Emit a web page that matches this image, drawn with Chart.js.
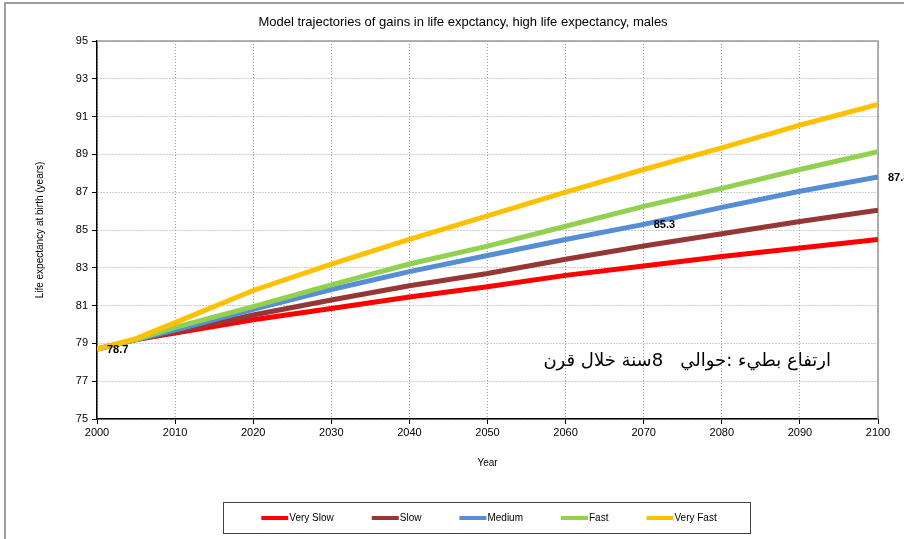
<!DOCTYPE html>
<html>
<head>
<meta charset="utf-8">
<script src="https://cdn.jsdelivr.net/npm/chart.js@4.4.0/dist/chart.umd.min.js"></script>
<style>
  html, body { margin: 0; padding: 0; background: #fff; }
  #wrap { width: 904px; height: 539px; }
</style>
</head>
<body>
<div id="wrap"><canvas id="lifeChart" width="904" height="539"></canvas></div>
<script>
// life expectancy at birth, males, by scenario
const years = [2000, 2005, 2010, 2020, 2030, 2040, 2050, 2060, 2070, 2080, 2090, 2100];
const verySlow = [78.7, 79.2, 79.55, 80.25, 80.85, 81.45, 82.0, 82.6, 83.1, 83.6, 84.05, 84.5];
const slow     = [78.7, 79.2, 79.6, 80.5, 81.3, 82.05, 82.7, 83.45, 84.15, 84.8, 85.45, 86.05];
const medium   = [78.7, 79.2, 79.7, 80.8, 81.85, 82.8, 83.65, 84.5, 85.3, 86.2, 87.05, 87.8];
const fast     = [78.7, 79.2, 79.85, 80.95, 82.1, 83.2, 84.15, 85.2, 86.25, 87.2, 88.2, 89.15];
const veryFast = [78.7, 79.25, 80.1, 81.8, 83.2, 84.5, 85.75, 87.0, 88.2, 89.35, 90.55, 91.65];

const seriesNames = ["Very Slow", "Slow", "Medium", "Fast", "Very Fast"];
const seriesColors = ["#FF0000", "#953735", "#558ED5", "#92D050", "#FFC000"];
const seriesValues = [verySlow, slow, medium, fast, veryFast];

// value labels: [series index, year]
const valueLabels = [[4, 2000], [2, 2070], [2, 2100]];
const chartTitle = "Model trajectories of gains in life expctancy, high life expectancy, males";
const note = "ارتفاع بطيء :حوالي   8سنة خلال قرن";

const FONT = '"Liberation Sans", Arial, sans-serif';

const datasets = seriesValues.map(function (vals, i) {
    return {
        label: seriesNames[i],
        data: vals.map(function (v, j) { return { x: years[j], y: v }; }),
        borderColor: seriesColors[i],
        backgroundColor: seriesColors[i],
        borderWidth: 5,
        pointRadius: 0,
        tension: 0,
        order: seriesValues.length - i
    };
});

const decorations = {
    id: "decorations",
    beforeDraw(chart) {
        const ctx = chart.ctx;
        ctx.save();
        ctx.fillStyle = "#fff";
        ctx.fillRect(0, 0, chart.width, chart.height);
        ctx.strokeStyle = "#7f7f7f";
        ctx.lineWidth = 1.5;
        ctx.strokeRect(5, 3, chart.width + 20, chart.height + 20);

        ctx.fillStyle = "#000";
        ctx.font = "13px " + FONT;
        ctx.textAlign = "center";
        ctx.textBaseline = "middle";
        ctx.fillText(chartTitle, 463, 22);
        ctx.restore();
    },
    beforeDatasetsDraw(chart) {
        const a = chart.chartArea;
        const ctx = chart.ctx;
        ctx.save();
        ctx.strokeStyle = "#999";
        ctx.lineWidth = 1.5;
        ctx.beginPath();
        ctx.moveTo(a.left, a.top);
        ctx.lineTo(a.right, a.top);
        ctx.lineTo(a.right, a.bottom);
        ctx.stroke();
        ctx.restore();
    },
    afterDatasetsDraw(chart) {
        const ctx = chart.ctx;
        ctx.save();
        ctx.fillStyle = "#000";
        ctx.font = "bold 11px " + FONT;
        ctx.textBaseline = "middle";
        ctx.textAlign = "left";
        valueLabels.forEach(function (lb) {
            const idx = years.indexOf(lb[1]);
            const pt = chart.getDatasetMeta(lb[0]).data[idx];
            const v = seriesValues[lb[0]][idx];
            ctx.fillText(v.toFixed(1), pt.x + 10, pt.y + 1);
        });

        ctx.font = '18px "DejaVu Sans", sans-serif';
        ctx.direction = "rtl";
        ctx.textAlign = "right";
        ctx.fillText(note, 831, 361);
        ctx.restore();
    },
    afterDraw(chart) {
        // boxed legend under the axis
        const ctx = chart.ctx;
        ctx.save();
        ctx.strokeStyle = "#404040";
        ctx.lineWidth = 1;
        ctx.strokeRect(223.5, 502.5, 527, 31);
        ctx.font = "10px " + FONT;
        ctx.textBaseline = "middle";
        ctx.textAlign = "left";
        const lineLen = 27, gap = 38;
        const widths = seriesNames.map(function (n) { return lineLen + 1 + ctx.measureText(n).width; });
        const total = widths.reduce(function (s, w) { return s + w; }, 0) + gap * (widths.length - 1);
        let x = 489 - total / 2;
        const y = 518;
        seriesNames.forEach(function (n, i) {
            ctx.strokeStyle = seriesColors[i];
            ctx.lineWidth = 4;
            ctx.beginPath();
            ctx.moveTo(x, y);
            ctx.lineTo(x + lineLen, y);
            ctx.stroke();
            ctx.fillStyle = "#000";
            ctx.fillText(n, x + lineLen + 1, y);
            x += widths[i] + gap;
        });
        ctx.restore();
    }
};

new Chart(document.getElementById("lifeChart").getContext("2d"), {
    type: "line",
    data: { datasets: datasets },
    options: {
        responsive: false,
        animation: false,
        layout: { padding: { left: 0, right: 26, top: 41, bottom: 0 } },
        scales: {
            x: {
                type: "linear",
                min: 2000,
                max: 2100,
                afterFit: function (s) { s.height = 120; },
                ticks: {
                    stepSize: 10,
                    padding: 2,
                    color: "#000",
                    font: { family: FONT, size: 11 },
                    maxRotation: 0,
                    callback: function (v) { return String(v); }
                },
                grid: { color: "#9a9a9a", lineWidth: 1, tickLength: 5, tickColor: "#000" },
                border: { display: true, color: "#000", width: 1.5, dash: [1, 2] },
                title: {
                    display: true,
                    text: "Year",
                    color: "#000",
                    font: { family: FONT, size: 10 },
                    padding: { top: 0, bottom: 70 }
                }
            },
            y: {
                min: 75,
                max: 95,
                afterFit: function (s) { s.width = 97; },
                ticks: {
                    stepSize: 2,
                    padding: 4,
                    color: "#000",
                    font: { family: FONT, size: 11 }
                },
                grid: { color: "#9a9a9a", lineWidth: 1, tickLength: 5, tickColor: "#000" },
                border: { display: true, color: "#000", width: 1.5, dash: [1, 2] },
                title: {
                    display: true,
                    text: "Life expectancy at birth (years)",
                    color: "#000",
                    font: { family: FONT, size: 10 },
                    padding: { top: 34, bottom: 0 }
                }
            }
        },
        plugins: {
            legend: { display: false },
            tooltip: { enabled: false },
            title: { display: false }
        }
    },
    plugins: [decorations]
});
</script>
</body>
</html>
